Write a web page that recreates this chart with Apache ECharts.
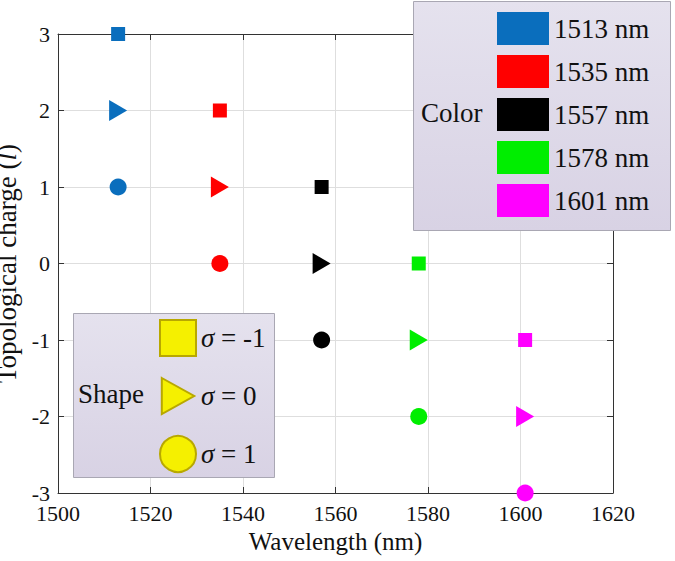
<!DOCTYPE html>
<html>
<head>
<meta charset="utf-8">
<script src="https://cdn.jsdelivr.net/npm/echarts@6/dist/echarts.min.js"></script>
<style>html,body{margin:0;padding:0;background:#fff;}#c{width:675px;height:561px;}</style>
</head>
<body>
<div id="c"></div>
<script>
// ---- data ----
const wavelengths = [1513, 1535, 1557, 1578, 1601];
const colorNames = ['1513 nm', '1535 nm', '1557 nm', '1578 nm', '1601 nm'];
const colors = ['#0a6ebd', '#ff0000', '#000000', '#00ee00', '#ff00ff'];
const chargeSquare = [3, 2, 1, 0, -1];     // sigma = -1
const chargeTriangle = [2, 1, 0, -1, -2];  // sigma = 0
const chargeCircle = [1, 0, -1, -2, -3];   // sigma = 1
const sigmaNames = ['σ = -1', 'σ = 0', 'σ = 1'];
const xRange = [1500, 1620, 20];
const yRange = [-3, 3, 1];

const FONT = 'Liberation Serif';
const TRI = 'path://M0,0L10,5.8L0,11.6Z';
const shapeSymbols = ['rect', TRI, 'circle'];
const shapeSizes = [14, [18, 21], 17];
const shapeCharges = [chargeSquare, chargeTriangle, chargeCircle];

const series = [];
wavelengths.forEach((w, i) => {
  series.push({
    name: colorNames[i], type: 'scatter', z: 2,
    itemStyle: { color: colors[i], opacity: 1 },
    data: shapeCharges.map((arr, s) => ({ value: [w, arr[i]], symbol: shapeSymbols[s], symbolSize: shapeSizes[s] }))
  });
});
sigmaNames.forEach((n, s) => {
  series.push({
    name: n, type: 'scatter', symbol: shapeSymbols[s],
    itemStyle: { color: '#f5f000', borderColor: '#b8a800', borderWidth: 1, opacity: 1 },
    data: []
  });
});

function ls() { return { color: '#333', width: 1 }; }
const x0 = {
  type: 'value', min: xRange[0], max: xRange[1], interval: xRange[2],
  name: 'Wavelength (nm)', nameLocation: 'middle', nameGap: 31,
  nameTextStyle: { fontFamily: FONT, fontSize: 25, color: '#111' },
  axisLine: { show: true, onZero: false, lineStyle: ls() },
  axisTick: { show: true, inside: true, length: 6, lineStyle: ls() },
  axisLabel: { margin: 9, fontFamily: FONT, fontSize: 22, color: '#111', formatter: v => String(v) },
  splitLine: { show: true, lineStyle: { color: '#dedede', width: 1 } }
};
const y0 = {
  type: 'value', min: yRange[0], max: yRange[1], interval: yRange[2],
  name: 'Topological charge ({i|l})', nameLocation: 'middle', nameGap: 26,
  nameTextStyle: { fontFamily: FONT, fontSize: 27, color: '#111',
    rich: { i: { fontFamily: FONT, fontSize: 27, fontStyle: 'italic', color: '#111' } } },
  axisLine: { show: true, onZero: false, lineStyle: ls() },
  axisTick: { show: true, inside: true, length: 6, lineStyle: ls() },
  axisLabel: { margin: 8, fontFamily: FONT, fontSize: 22, color: '#111', formatter: v => String(v) },
  splitLine: { show: true, lineStyle: { color: '#dedede', width: 1 } }
};
const x1 = {
  type: 'value', position: 'top', min: xRange[0], max: xRange[1], interval: xRange[2],
  axisLine: { show: true, onZero: false, lineStyle: ls() },
  axisTick: { show: true, inside: true, length: 6, lineStyle: ls() },
  axisLabel: { show: false }, splitLine: { show: false }
};
const y1 = {
  type: 'value', position: 'right', min: yRange[0], max: yRange[1], interval: yRange[2],
  axisLine: { show: true, onZero: false, lineStyle: ls() },
  axisTick: { show: true, inside: true, length: 6, lineStyle: ls() },
  axisLabel: { show: false }, splitLine: { show: false }
};

const option = {
  animation: false,
  backgroundColor: '#fff',
  grid: { left: 58, right: 62, top: 34, bottom: 68, containLabel: false, outerBoundsMode: 'none' },
  xAxis: [x0, x1],
  yAxis: [y0, y1],
  legend: [{
    orient: 'vertical', left: 497, top: 12, padding: 0, z: 6,
    itemWidth: 52, itemHeight: 33, itemGap: 10, icon: 'rect',
    textStyle: { fontFamily: FONT, fontSize: 27, color: '#111' },
    data: colorNames.slice(), selectedMode: false
  }, {
    orient: 'vertical', left: 159, top: 319, padding: 0, z: 6,
    itemWidth: 36, itemHeight: 36, itemGap: 20,
    textStyle: { fontFamily: FONT, fontSize: 27, color: '#111',
      rich: { i: { fontFamily: FONT, fontSize: 27, fontStyle: 'italic', color: '#111' } } },
    formatter: n => n.replace('σ', '{i|σ}'),
    data: sigmaNames.map((n, s) => ({ name: n, icon: shapeSymbols[s] === TRI ? 'path://M0,0L36,20L0,40Z' : shapeSymbols[s] })),
    selectedMode: false
  }],
  graphic: [{
    type: 'rect', z: 3,
    shape: { x: 413.5, y: 1.5, width: 257, height: 229 },
    style: {
      fill: { type: 'linear', x: 0, y: 0, x2: 0, y2: 1, colorStops: [
        { offset: 0, color: '#e5e2ee' }, { offset: 1, color: '#d8d2e4' }] },
      stroke: '#a9a7b3', lineWidth: 1
    }
  }, {
    type: 'text', z: 5, left: 421, top: 99,
    style: { text: 'Color', font: "27px 'Liberation Serif', serif", fill: '#111' }
  }, {
    type: 'rect', z: 3,
    shape: { x: 73.5, y: 313.5, width: 201, height: 164 },
    style: {
      fill: { type: 'linear', x: 0, y: 0, x2: 0, y2: 1, colorStops: [
        { offset: 0, color: '#e5e2ee' }, { offset: 1, color: '#d8d2e4' }] },
      stroke: '#a9a7b3', lineWidth: 1
    }
  }, {
    type: 'text', z: 5, left: 78, top: 380,
    style: { text: 'Shape', font: "27px 'Liberation Serif', serif", fill: '#111' }
  }],
  series: series
};
const chart = echarts.init(document.getElementById('c'), null, { renderer: 'svg' });
chart.setOption(option);
</script>
</body>
</html>
